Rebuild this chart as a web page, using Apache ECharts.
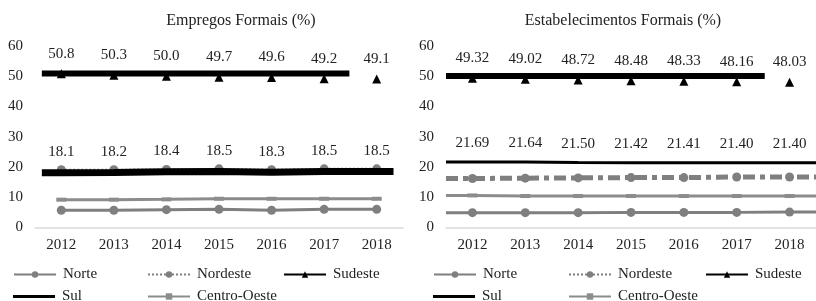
<!DOCTYPE html>
<html>
<head>
<meta charset="utf-8">
<script src="https://cdn.jsdelivr.net/npm/echarts@6/dist/echarts.min.js"></script>
<style>
  html, body { margin: 0; padding: 0; background: #fff; }
  #chart { width: 816px; height: 301px; }
</style>
</head>
<body>
<div id="chart"></div>
<script>
// ---- Data ----
const years = ['2012', '2013', '2014', '2015', '2016', '2017', '2018'];
const yTicks = [0, 10, 20, 30, 40, 50, 60];

// Empregos Formais (%)
const empNorte       = [5.7, 5.7, 5.9, 6.0, 5.7, 6.0, 6.0];
const empNordeste    = [19.1, 19.1, 19.2, 19.4, 19.1, 19.4, 19.4];
const empSudeste     = [50.8, 50.3, 50.0, 49.7, 49.6, 49.2, 49.1];
const empSul         = [18.1, 18.2, 18.4, 18.5, 18.3, 18.5, 18.5];
const empCentroOeste = [9.2, 9.2, 9.3, 9.5, 9.5, 9.5, 9.5];
const empSudesteFaixa = 50.9;   // flat thick band drawn in the source

// Estabelecimentos Formais (%)
const estNorte       = [4.9, 4.9, 4.9, 5.0, 5.0, 5.0, 5.1];
const estNordeste    = [16.2, 16.3, 16.4, 16.5, 16.5, 16.7, 16.7];
const estSudeste     = [49.32, 49.02, 48.72, 48.48, 48.33, 48.16, 48.03];
const estSul         = [21.69, 21.64, 21.50, 21.42, 21.41, 21.40, 21.40];
const estCentroOeste = [10.6, 10.4, 10.4, 10.4, 10.4, 10.4, 10.4];
const estSudesteFaixa = 50.1;

const legendNames = ['Norte', 'Nordeste', 'Sudeste', 'Sul', 'Centro-Oeste'];

// ---- Layout / style ----
const SERIF = "'Liberation Serif', 'DejaVu Serif', serif";
const GREY = '#7f7f7f';
const ext = {
  empSul: [-0.37, 6.32], empBand: [-0.37, 5.48],
  estLine: [-0.5, 6.5], estBand: [-0.5, 5.53]
};

function pts(vals, range) {
  const d = vals.map((v, i) => [i, v]);
  if (range) {
    d.unshift({ value: [range[0], vals[0]], symbol: 'none', label: { show: false } });
    d.push({ value: [range[1], vals[vals.length - 1]], symbol: 'none', label: { show: false } });
  }
  return d;
}
function band(v, range) { return [[range[0], v], [range[1], v]]; }

const labelBase = { show: true, position: 'top', fontFamily: SERIF, fontSize: 15, color: '#222' };

function seriesFor(g, d) {
  const xi = g * 2 + 1; // hidden value x axis of this grid
  const yi = g;
  const common = { type: 'line', xAxisIndex: xi, yAxisIndex: yi, animation: false };
  const isEst = g === 1;
  const dec = isEst ? 2 : 1;
  return [
    Object.assign({}, common, {
      name: legendNames[0], data: pts(d.norte, isEst ? ext.estLine : null),
      symbol: 'circle', symbolSize: 9, color: GREY, z: 2,
      lineStyle: { color: GREY, width: 3 }, itemStyle: { color: GREY }
    }),
    Object.assign({}, common, {
      name: legendNames[1], data: pts(d.nordeste, isEst ? ext.estLine : null),
      symbol: 'circle', symbolSize: 9, color: GREY, z: 2,
      lineStyle: isEst ? { color: GREY, width: 5, type: [12, 5, 5, 5] } : { color: GREY, width: 2, type: 'dotted' },
      itemStyle: { color: GREY }
    }),
    Object.assign({}, common, {
      name: '_faixa', data: band(d.faixa, isEst ? ext.estBand : ext.empBand),
      symbol: 'none', lineStyle: { color: '#000', width: 6 }, silent: true, z: 3
    }),
    Object.assign({}, common, {
      name: legendNames[2], data: pts(d.sudeste, null),
      symbol: 'triangle', symbolSize: 9, color: '#000',
      lineStyle: { color: '#000', width: 2, opacity: 0 }, itemStyle: { color: '#000' }, z: 4,
      label: Object.assign({}, labelBase, { distance: 8, formatter: p => p.value[1].toFixed(dec) })
    }),
    Object.assign({}, common, {
      name: legendNames[3], data: pts(d.sul, isEst ? ext.estLine : ext.empSul),
      symbol: 'circle', symbolSize: 0.1, color: '#000', z: 4,
      lineStyle: { color: '#000', width: isEst ? 3 : 7 }, itemStyle: { color: '#000' },
      label: Object.assign({}, labelBase, { distance: isEst ? 11 : 13, formatter: p => p.value[1].toFixed(dec) })
    }),
    Object.assign({}, common, {
      name: legendNames[4], data: pts(d.co, isEst ? ext.estLine : null),
      symbol: 'rect', symbolSize: [10, 4], color: '#8c8c8c', z: 2,
      lineStyle: { color: '#8c8c8c', width: 3 }, itemStyle: { color: '#8c8c8c' }
    })
  ];
}

const grids = [
  { left: 35, top: 46, width: 368, height: 181.5 },
  { left: 446, top: 46, width: 374, height: 181.5 }
];

const xAxes = [];
const yAxes = [];
grids.forEach((g, i) => {
  xAxes.push({
    type: 'category', gridIndex: i, data: years, boundaryGap: true,
    axisLine: { lineStyle: { color: '#d9d9d9', width: 1.5 } },
    axisTick: { show: false },
    axisLabel: { fontFamily: SERIF, fontSize: 15, color: '#222', margin: 10 }
  });
  xAxes.push({ type: 'value', gridIndex: i, min: -0.5, max: 6.5, show: false });
  yAxes.push({
    type: 'value', gridIndex: i, min: yTicks[0], max: yTicks[yTicks.length - 1], interval: yTicks[1] - yTicks[0],
    axisLine: { show: false }, axisTick: { show: false }, splitLine: { show: false },
    axisLabel: { fontFamily: SERIF, fontSize: 15, color: '#222', margin: 12 }
  });
});

// one legend component per item so that the two-row grid of entries lines up
function legendItem(name, left, top, extra) {
  const isSul = name === 'Sul';
  return {
    left: left, top: top, orient: 'horizontal', selectedMode: false, padding: 0,
    itemWidth: 42, itemHeight: isSul ? 3 : 8, itemGap: 0,
    textStyle: { fontFamily: SERIF, fontSize: 15, color: '#222', padding: [0, 0, 0, 2] },
    data: [Object.assign({ name: name }, extra || {})]
  };
}
function legendsAt(cols, rows) {
  return [
    legendItem(legendNames[0], cols[0], rows[0], { lineStyle: { width: 2 } }),
    legendItem(legendNames[1], cols[1], rows[0], { lineStyle: { width: 2, type: 'dotted' } }),
    legendItem(legendNames[2], cols[2], rows[0], { lineStyle: { width: 2, opacity: 1, color: '#000' } }),
    legendItem(legendNames[3], cols[0], rows[1], { icon: 'rect', itemStyle: { color: '#000' } }),
    legendItem(legendNames[4], cols[1], rows[1], { lineStyle: { width: 2 } })
  ];
}

const option = {
  backgroundColor: '#fff',
  animation: false,
  title: [
    { text: 'Empregos Formais (%)', left: 236, top: 8, textAlign: 'center',
      textStyle: { fontFamily: SERIF, fontSize: 16, fontWeight: 'normal', color: '#222' } },
    { text: 'Estabelecimentos Formais (%)', left: 618, top: 8, textAlign: 'center',
      textStyle: { fontFamily: SERIF, fontSize: 16, fontWeight: 'normal', color: '#222' } }
  ],
  legend: [].concat(
    legendsAt([13, 147, 283], [267, 289]),
    legendsAt([433, 568, 705], [267, 289])
  ),
  grid: grids,
  xAxis: xAxes,
  yAxis: yAxes,
  series: [].concat(
    seriesFor(0, { norte: empNorte, nordeste: empNordeste, sudeste: empSudeste, sul: empSul, co: empCentroOeste, faixa: empSudesteFaixa }),
    seriesFor(1, { norte: estNorte, nordeste: estNordeste, sudeste: estSudeste, sul: estSul, co: estCentroOeste, faixa: estSudesteFaixa })
  )
};

const chart = echarts.init(document.getElementById('chart'), null, { renderer: 'canvas' });
chart.setOption(option);
</script>
</body>
</html>
